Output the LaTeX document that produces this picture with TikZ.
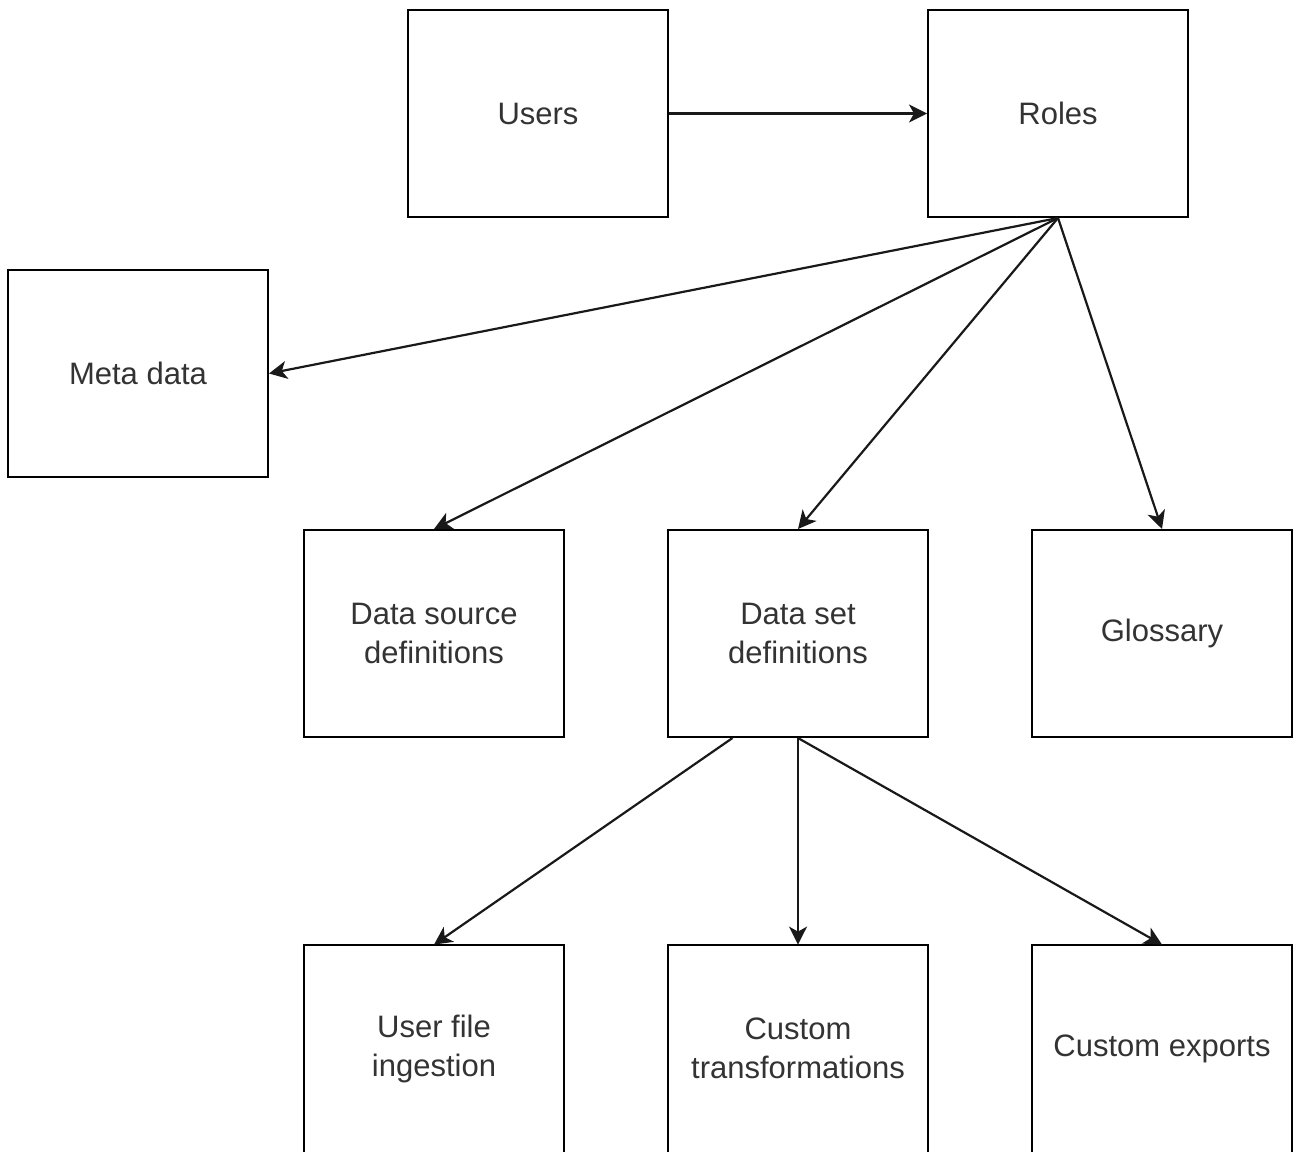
\documentclass[tikz,border=0pt]{standalone}
\usepackage{fontspec}
\setmainfont{Liberation Sans}
\usetikzlibrary{arrows.meta,calc}
\begin{document}
\begin{tikzpicture}[x=0.5pt,y=-0.5pt,
  boxtext/.style={minimum width=130pt, minimum height=103.5pt,
    inner sep=0pt, align=center, text=black!80, font=\fontsize{15.5}{19.5}\selectfont},
  box/.style={boxtext, draw=black, line width=1pt, fill=white},
  outline/.style={draw=black, line width=1pt},
  conn/.style={draw=black!90, line width=1.1pt, -{Stealth[length=9pt,width=9pt,inset=2.5pt]}}]
\useasboundingbox (0,0) rectangle (1293,1151);
\clip (0,0) rectangle (1293,1151);
\node[box] (u) at (538,113.5) {Users};
\node[box] (r) at (1058,113.5) {Roles};
\node[box] (m) at (138,373.5) {Meta data};
\node[box] (dsrc) at (434,633.5) {Data source\\definitions};
\node[box] (dset) at (798,633.5) {Data set\\definitions};
\node[box] (g) at (1162,633.5) {Glossary};
\node[boxtext] (ufi) at (434,1048.5) {User file\\ingestion};
\node[boxtext] (ct) at (798,1048.5) {Custom\\transformations};
\node[boxtext] (ce) at (1162,1048.5) {Custom exports};
\foreach \n in {ufi,ct,ce}{
  \draw[outline] ($(\n.south west)+(0,40)$) -- (\n.north west) -- (\n.north east) -- ($(\n.south east)+(0,40)$);
}
\coordinate (dq) at ($(dset.south west)!0.25!(dset.south east)$);
\draw[conn] (u.east) -- (r.west);
\draw[conn] (r.south) -- (m.east);
\draw[conn] (r.south) -- (dsrc.north);
\draw[conn] (r.south) -- (dset.north);
\draw[conn] (r.south) -- (g.north);
\draw[conn] (dq) -- (ufi.north);
\draw[conn] (dset.south) -- (ct.north);
\draw[conn] (dset.south) -- (ce.north);
\end{tikzpicture}
\end{document}
